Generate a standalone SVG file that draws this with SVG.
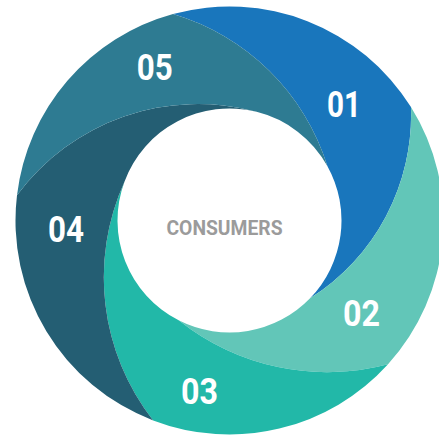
<svg xmlns="http://www.w3.org/2000/svg" width="439" height="437" viewBox="0 0 439 437">
<style>
.num{font-family:Roboto,"Liberation Sans",sans-serif;font-weight:bold;font-size:36px;fill:#fff;text-anchor:middle}
.center{font-family:Roboto,"Liberation Sans",sans-serif;font-weight:bold;font-size:20px;fill:#9b9b9b;text-anchor:middle}
</style>
<rect width="439" height="437" fill="#fff"/>
<g id="seg01">
<path fill="#1976bc" d="M173.03,14.08 A214,214 0 0 1 410.97,107.10 A217,217 0 0 1 310.06,298.31 A112,112 0 0 0 327.46,166.20 A230,230 0 0 0 173.03,14.08 Z"/>
<text class="num" x="344" y="116.5" textLength="34" lengthAdjust="spacingAndGlyphs">01</text>
</g>
<g id="seg02">
<path fill="#62c6b8" d="M410.97,107.10 A214,214 0 0 1 388.03,364.24 A238,238 0 0 1 178.65,320.29 A112,112 0 0 0 310.06,298.31 A217,217 0 0 0 410.97,107.10 Z"/>
<text class="num" x="361.5" y="326" textLength="37" lengthAdjust="spacingAndGlyphs">02</text>
</g>
<g id="seg03">
<path fill="#22b8a8" d="M388.03,364.24 A214,214 0 0 1 153.17,420.42 A232,232 0 0 1 124.46,181.65 A112,112 0 0 0 178.65,320.29 A238,238 0 0 0 388.03,364.24 Z"/>
<text class="num" x="199.5" y="404" textLength="37" lengthAdjust="spacingAndGlyphs">03</text>
</g>
<g id="seg04">
<path fill="#245e73" d="M153.17,420.42 A214,214 0 0 1 17.00,195.16 A225,225 0 0 1 256.60,111.83 A112,112 0 0 0 124.46,181.65 A232,232 0 0 0 153.17,420.42 Z"/>
<text class="num" x="66" y="242" textLength="36" lengthAdjust="spacingAndGlyphs">04</text>
</g>
<g id="seg05">
<path fill="#2e7b92" d="M17.00,195.16 A214,214 0 0 1 173.03,14.08 A230,230 0 0 1 327.46,166.20 A112,112 0 0 0 256.60,111.83 A225,225 0 0 0 17.00,195.16 Z"/>
<text class="num" x="154.7" y="80" textLength="36" lengthAdjust="spacingAndGlyphs">05</text>
</g>
<g id="center">
<text class="center" x="224.5" y="235.3" textLength="116" lengthAdjust="spacingAndGlyphs">CONSUMERS</text>
</g>
<g id="connectors"/>
</svg>
